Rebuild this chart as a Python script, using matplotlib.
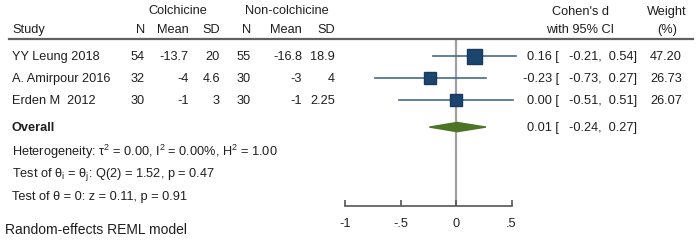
import numpy as np
import matplotlib
matplotlib.use("Agg")
from matplotlib import pyplot as plt
from matplotlib import transforms

plt.rcParams['font.family'] = ['Liberation Sans', 'DejaVu Sans']
plt.rcParams['mathtext.fontset'] = 'custom'
plt.rcParams['mathtext.rm'] = 'Liberation Sans'
plt.rcParams['mathtext.it'] = 'Liberation Sans:italic'

studies = ['YY Leung 2018', 'A. Amirpour 2016', 'Erden M  2012']
n_col = [54, 32, 30]
mean_col = ['-13.7', '-4', '-1']
sd_col = ['20', '4.6', '3']
n_non = [55, 30, 30]
mean_non = ['-16.8', '-3', '-1']
sd_non = ['18.9', '4', '2.25']
effect = [0.16, -0.23, 0.00]
lower = [-0.21, -0.73, -0.51]
upper = [0.54, 0.27, 0.51]
weight = [47.20, 26.73, 26.07]
overall = (0.01, -0.24, 0.27)
xticks = [-1, -0.5, 0, 0.5]
xticklabels = ['-1', '-.5', '0', '.5']

W, H = 700, 253
fig = plt.figure(figsize=(W / 100, H / 100), dpi=100)

def px(x):
    return x / W

# forest plot axes: x from -1 (px 345) to 0.5 (px 511.5); y from header line (39) to axis (207)
ax = fig.add_axes([px(345), 1 - 207 / H, px(166.5), (207 - 39) / H])
ax.set_xlim(-1, 0.5)
ax.set_ylim(6.8, -0.82)
for s in ['top', 'right', 'left']:
    ax.spines[s].set_visible(False)
ax.spines['bottom'].set_color('#555555')
ax.spines['bottom'].set_linewidth(1.2)
ax.set_yticks([])
ax.set_xticks(xticks)
ax.set_xticklabels(xticklabels, fontsize=9.2, color='#222222')
ax.tick_params(axis='x', direction='in', length=4, width=1.2, color='#555555', pad=8)
ax.patch.set_alpha(0)

rows = np.arange(len(studies))
y_overall = 3.22

ax.axvline(0, color='#a0a0a0', lw=1.6, zorder=1)

for i in rows:
    ax.plot([lower[i], upper[i]], [i, i], color='#44698f', lw=1.2, zorder=2, clip_on=False)
    ms = 10.8 * np.sqrt(weight[i] / max(weight))
    ax.plot(effect[i], i, marker='s', ms=ms, color='#1c456e', mec='#163a5e', zorder=3)

est, lo, hi = overall
ax.fill([lo, est, hi, est], [y_overall, y_overall - 0.21, y_overall, y_overall + 0.21],
        color='#4b7425', zorder=3)

# table text
tr = transforms.blended_transform_factory(fig.transFigure, ax.transData)
fs = 9.2
col = '#1e1e1e'

fig.text(px(178), 1 - 11 / H, 'Colchicine', ha='center', va='center', fontsize=fs, color=col)
fig.text(px(287), 1 - 11 / H, 'Non-colchicine', ha='center', va='center', fontsize=fs, color=col)
fig.text(px(580), 1 - 12 / H, "Cohen's d", ha='center', va='center', fontsize=fs, color=col)
fig.text(px(667), 1 - 12 / H, 'Weight', ha='center', va='center', fontsize=fs, color=col)
fig.text(px(12), 1 - 30 / H, 'Study', ha='left', va='center', fontsize=fs, color=col)
for x, lab in [(145, 'N'), (189, 'Mean'), (220, 'SD'), (251, 'N'), (302, 'Mean'), (335, 'SD')]:
    fig.text(px(x), 1 - 30 / H, lab, ha='right', va='center', fontsize=fs, color=col)
fig.text(px(580), 1 - 30 / H, 'with 95% CI', ha='center', va='center', fontsize=fs, color=col)
fig.text(px(667), 1 - 30 / H, '(%)', ha='center', va='center', fontsize=fs, color=col)

fig.add_artist(plt.Line2D([px(9), px(693)], [1 - 39.5 / H, 1 - 39.5 / H],
                          color='#606060', lw=1.6))

for i in rows:
    fig.text(px(12), i, studies[i], transform=tr, ha='left', va='center', fontsize=fs, color=col)
    vals = [str(n_col[i]), mean_col[i], sd_col[i], str(n_non[i]), mean_non[i], sd_non[i]]
    for x, v in zip([145, 189, 220, 251, 302, 335], vals):
        fig.text(px(x), i, v, transform=tr, ha='right', va='center', fontsize=fs, color=col)
    fig.text(px(559), i, f'{effect[i]:.2f} [', transform=tr, ha='right', va='center',
             fontsize=fs, color=col)
    fig.text(px(637), i, f'{lower[i]:.2f},  {upper[i]:.2f}]', transform=tr, ha='right',
             va='center', fontsize=fs, color=col)
    fig.text(px(682), i, f'{weight[i]:.2f}', transform=tr, ha='right', va='center',
             fontsize=fs, color=col)

fig.text(px(12), y_overall, 'Overall', transform=tr, ha='left', va='center', fontsize=fs,
         color=col, fontweight='bold')
fig.text(px(559), y_overall, f'{est:.2f} [', transform=tr, ha='right', va='center',
         fontsize=fs, color=col)
fig.text(px(637), y_overall, f'{lo:.2f},  {hi:.2f}]', transform=tr, ha='right', va='center',
         fontsize=fs, color=col)

fig.text(px(12), 1 - 152 / H, r'Heterogeneity: τ$^\mathrm{2}$ = 0.00, I$^\mathrm{2}$ = 0.00%, H$^\mathrm{2}$ = 1.00',
         ha='left', va='center', fontsize=fs, color=col)
fig.text(px(12), 1 - 175 / H, r'Test of θ$_\mathrm{i}$ = θ$_\mathrm{j}$: Q(2) = 1.52, p = 0.47',
         ha='left', va='center', fontsize=fs, color=col)
fig.text(px(12), 1 - 197 / H, 'Test of θ = 0: z = 0.11, p = 0.91',
         ha='left', va='center', fontsize=fs, color=col)
fig.text(px(5), 1 - 230 / H, 'Random-effects REML model',
         ha='left', va='center', fontsize=10, color=col)

fig.savefig('out.png', dpi=100)
